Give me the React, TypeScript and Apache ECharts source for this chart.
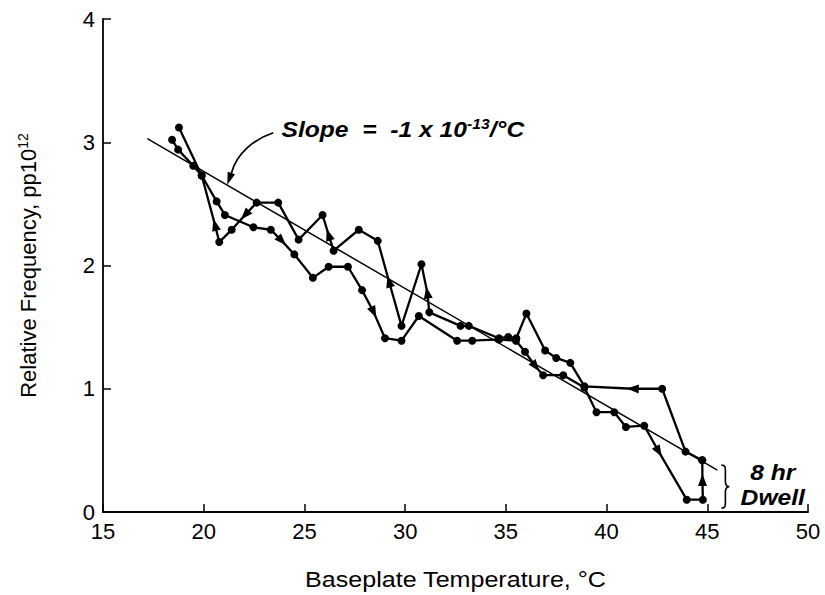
import React, { useEffect, useRef } from "react";
import * as echarts from "echarts";

// Heating run (lower branch at high temperature), ends with the 8 hr dwell at 45 °C
const heatTemp = [18.43, 18.73, 19.48, 19.9, 20.64, 21.05, 22.47, 23.33, 23.88, 24.5, 25.42, 26.2, 27.16, 27.86, 28.44, 29.0, 29.82, 30.68, 32.58, 33.33, 34.66, 35.5, 35.95, 36.48, 36.85, 37.85, 38.9, 39.5, 40.38, 40.96, 41.87, 42.59, 43.98, 44.78, 44.76, 44.75];
const heatFreq = [3.02, 2.94, 2.81, 2.73, 2.52, 2.41, 2.31, 2.29, 2.2, 2.09, 1.9, 1.99, 1.99, 1.8, 1.62, 1.41, 1.39, 1.59, 1.39, 1.39, 1.4, 1.39, 1.3, 1.18, 1.11, 1.11, 1.01, 0.81, 0.81, 0.69, 0.7, 0.49, 0.1, 0.1, 0.26, 0.42];
const heatArrows = [8, 14, 23, 31, 34];

// Cooling run (upper branch at high temperature), back from 45 °C
const coolTemp = [44.75, 43.92, 42.76, 41.3, 38.9, 38.2, 37.5, 36.95, 36.02, 35.52, 35.12, 34.66, 33.16, 32.75, 31.2, 31.1, 30.81, 29.82, 29.2, 28.64, 27.7, 26.45, 26.2, 25.9, 24.71, 23.7, 22.63, 22.05, 21.39, 20.77, 20.56, 19.9, 18.77];
const coolFreq = [0.42, 0.49, 1.0, 1.0, 1.02, 1.21, 1.25, 1.31, 1.61, 1.41, 1.42, 1.41, 1.51, 1.51, 1.62, 1.78, 2.01, 1.51, 1.87, 2.2, 2.29, 2.12, 2.25, 2.41, 2.21, 2.51, 2.51, 2.41, 2.29, 2.19, 2.33, 2.73, 3.12];
const coolArrows = [3, 15, 18, 22, 27, 30];

// Fitted slope line
const slopeTemp = [17.2, 45.5];
const slopeFreq = [3.03, 0.34];

const xTickMin = 15;
const xTickMax = 50;
const yTickMin = 0;
const yTickMax = 4;

const FONT = "'Liberation Sans', Arial, Helvetica, sans-serif";

const W = 825;
const H = 595;
const GRID = { left: 103, right: 17, top: 19, bottom: 83 };

function buildPath(xs: number[], ys: number[], arrows: number[]) {
  const kx = (W - GRID.left - GRID.right) / (xTickMax - xTickMin);
  const ky = (H - GRID.top - GRID.bottom) / (yTickMax - yTickMin);
  return xs.map((x, i) => {
    if (!arrows.includes(i)) return [x, ys[i]];
    const a = Math.max(0, i - 1);
    const b = Math.min(xs.length - 1, i + 1);
    const dx = (xs[b] - xs[a]) * kx;
    const dy = (ys[b] - ys[a]) * ky;
    const ang = (Math.atan2(dy, dx) * 180) / Math.PI - 90;
    return { value: [x, ys[i]], symbol: "triangle", symbolSize: [9, 12], symbolRotate: ang };
  });
}

echarts.graphic.registerShape(
  "brace",
  echarts.graphic.extendPath(
    "M0,0 C4,0 4,2 4,6 L4,16 C4,19 5,21.5 8,21.5 C5,21.5 4,24 4,27 L4,37 C4,41 4,43 0,43",
    {}
  )
);

export default function App() {
  const ref = useRef<HTMLDivElement>(null);

  useEffect(() => {
    if (!ref.current) return;
    const chart = echarts.init(ref.current, null, { renderer: "svg", width: W, height: H });

    const axisCommon = {
      axisLine: { show: true, lineStyle: { color: "#000", width: 1.8 } },
      axisTick: { show: true, inside: true, length: 8, lineStyle: { color: "#000", width: 1.5 } },
      splitLine: { show: false },
      axisLabel: { color: "#000", fontSize: 22, fontFamily: FONT, margin: 8 },
    };

    const traceStyle = {
      type: "line",
      symbol: "circle",
      symbolSize: 8,
      showSymbol: true,
      itemStyle: { color: "#000" },
      lineStyle: { color: "#000", width: 2.3 },
      silent: true,
      z: 3,
    };

    chart.setOption({
      animation: false,
      backgroundColor: "#fff",
      grid: GRID,
      xAxis: {
        type: "value",
        min: xTickMin,
        max: xTickMax,
        interval: 5,
        ...axisCommon,
      },
      yAxis: {
        type: "value",
        min: yTickMin,
        max: yTickMax,
        interval: 1,
        name: "Relative Frequency, pp10{sup|12}",
        nameLocation: "middle",
        nameGap: 63,
        nameTextStyle: {
          color: "#000",
          fontSize: 22,
          fontFamily: FONT,
          rich: {
            sup: { fontSize: 14, fontFamily: FONT, color: "#000", verticalAlign: "top", padding: [0, 0, 10, 0] },
          },
        },
        ...axisCommon,
      },
      series: [
        {
          type: "line",
          data: slopeTemp.map((x, i) => [x, slopeFreq[i]]),
          showSymbol: false,
          lineStyle: { color: "#000", width: 1.5 },
          silent: true,
          z: 2,
        },
        { ...traceStyle, data: buildPath(heatTemp, heatFreq, heatArrows) },
        { ...traceStyle, data: buildPath(coolTemp, coolFreq, coolArrows) },
      ],
    });

    const px = (x: number, y: number) => chart.convertToPixel({ gridIndex: 0 }, [x, y]) as number[];
    const tip = px(21.17, 2.655);
    const slopeTxt = px(23.86, 3.1);
    const dwell1 = px(48.25, 0.317);
    const dwell2 = px(48.25, 0.114);
    const brace = px(45.7, 0.38);
    const xTitle = px((xTickMin + xTickMax) / 2, yTickMin);

    const annStyle = { fontFamily: FONT, fontStyle: "italic", fontWeight: "bold", fill: "#000" };

    chart.setOption({
      graphic: [
        {
          type: "text",
          x: xTitle[0],
          y: xTitle[1] + 68,
          scaleX: 1.14,
          style: {
            text: "Baseplate Temperature, °C",
            align: "center",
            verticalAlign: "middle",
            fontSize: 22,
            fontFamily: FONT,
            fill: "#000",
          },
          silent: true,
        },
        {
          type: "bezierCurve",
          shape: {
            x1: tip[0] + 46,
            y1: tip[1] - 52,
            cpx1: tip[0] + 28,
            cpy1: tip[1] - 46,
            cpx2: tip[0] + 9,
            cpy2: tip[1] - 32,
            x2: tip[0] + 4,
            y2: tip[1] - 11,
          },
          style: { stroke: "#000", lineWidth: 1.7, fill: "none" },
          silent: true,
        },
        {
          type: "polygon",
          shape: {
            points: [
              [tip[0], tip[1]],
              [tip[0] + 7.8, tip[1] - 10.4],
              [tip[0] + 0.4, tip[1] - 13],
            ],
          },
          style: { fill: "#000" },
          silent: true,
        },
        {
          type: "text",
          x: slopeTxt[0],
          y: slopeTxt[1],
          scaleX: 1.12,
          style: {
            text: "{b|Slope  =  -1 x 10}{s|-13}{b|/°C}",
            verticalAlign: "middle",
            align: "left",
            rich: {
              b: { ...annStyle, fontSize: 22 },
              s: { ...annStyle, fontSize: 14, verticalAlign: "top", padding: [0, 0, 11, 0] },
            },
          },
          silent: true,
        },
        {
          type: "text",
          x: dwell1[0],
          y: dwell1[1],
          scaleX: 1.12,
          style: { text: "8 hr", align: "center", verticalAlign: "middle", fontSize: 22, ...annStyle },
          silent: true,
        },
        {
          type: "text",
          x: dwell2[0],
          y: dwell2[1],
          scaleX: 1.12,
          style: { text: "Dwell", align: "center", verticalAlign: "middle", fontSize: 22, ...annStyle },
          silent: true,
        },
        {
          type: "brace",
          x: brace[0],
          y: brace[1],
          style: { stroke: "#000", lineWidth: 1.6, fill: "none" },
          silent: true,
        },
      ],
    });

    return () => chart.dispose();
  }, []);

  return (
    <div
      ref={ref}
      style={{ position: "fixed", left: 0, top: 0, width: W, height: H, background: "#fff" }}
    />
  );
}
